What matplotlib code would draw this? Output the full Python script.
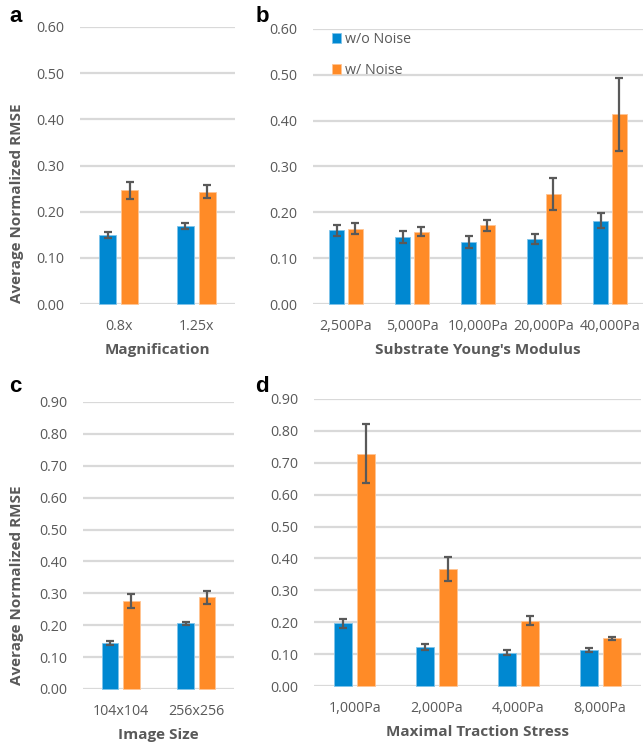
import numpy as np
import matplotlib.pyplot as plt

plt.rcParams['font.family'] = ['Open Sans', 'DejaVu Sans']

# panel a: magnification
mag_labels = ['0.8x', '1.25x']
mag_clean = [0.149, 0.169]
mag_clean_err = [0.006, 0.006]
mag_noise = [0.246, 0.243]
mag_noise_err = [0.018, 0.014]

# panel b: substrate young's modulus
mod_labels = ['2,500Pa', '5,000Pa', '10,000Pa', '20,000Pa', '40,000Pa']
mod_clean = [0.161, 0.147, 0.136, 0.142, 0.182]
mod_clean_err = [0.012, 0.013, 0.013, 0.011, 0.016]
mod_noise = [0.164, 0.158, 0.172, 0.240, 0.414]
mod_noise_err = [0.012, 0.010, 0.012, 0.034, 0.080]

# panel c: image size
size_labels = ['104x104', '256x256']
size_clean = [0.145, 0.206]
size_clean_err = [0.007, 0.005]
size_noise = [0.277, 0.288]
size_noise_err = [0.022, 0.020]

# panel d: maximal traction stress
stress_labels = ['1,000Pa', '2,000Pa', '4,000Pa', '8,000Pa']
stress_clean = [0.196, 0.123, 0.104, 0.113]
stress_clean_err = [0.015, 0.010, 0.008, 0.006]
stress_noise = [0.729, 0.368, 0.205, 0.149]
stress_noise_err = [0.092, 0.038, 0.015, 0.005]

BLUE = '#0088D1'
ORANGE = '#FF8B27'
GRAY = '#595959'
GRID = '#D9D9D9'

W, H = 643, 743
fig = plt.figure(figsize=(W / 100, H / 100), dpi=100)


def px_axes(x0, x1, ytop, ybot):
    return fig.add_axes([x0 / W, 1 - ybot / H, (x1 - x0) / W, (ybot - ytop) / H])


def bars(ax, labels, c, ce, n, ne, ymax, xlabel):
    x = np.arange(len(labels))
    bw = 0.22
    off = 0.142
    ek = dict(ecolor=GRAY, elinewidth=1.6, capsize=3.2, capthick=1.6)
    ax.bar(x - off, c, bw, yerr=ce, color=BLUE, edgecolor='#7FC4EA',
           linewidth=0.6, error_kw=ek, label='w/o Noise', zorder=3)
    ax.bar(x + off, n, bw, yerr=ne, color=ORANGE, edgecolor='#FFC594',
           linewidth=0.6, error_kw=ek, label='w/ Noise', zorder=3)
    ax.set_xlim(-0.5, len(labels) - 0.5)
    ax.set_ylim(0, ymax)
    ticks = np.arange(0, ymax + 0.001, 0.1)
    ax.set_yticks(ticks)
    ax.set_yticklabels(['%.2f' % v for v in ticks])
    ax.set_xticks(x)
    ax.set_xticklabels(labels)
    ax.grid(axis='y', color=GRID, linewidth=1.6, zorder=0)
    ax.set_axisbelow(True)
    for s in ax.spines.values():
        s.set_visible(False)
    ax.tick_params(length=0, colors=GRAY, labelsize=10.3)
    ax.tick_params(axis='x', pad=11)
    ax.tick_params(axis='y', pad=11)
    ax.set_xlabel(xlabel, fontsize=11, fontweight='bold', color=GRAY, labelpad=6)
    for child in ax.get_children():
        child.set_clip_on(False)


ax_a = px_axes(80, 235, 27, 304)
bars(ax_a, mag_labels, mag_clean, mag_clean_err, mag_noise, mag_noise_err,
     0.6, 'Magnification')

ax_b = px_axes(313, 643, 29, 304)
bars(ax_b, mod_labels, mod_clean, mod_clean_err, mod_noise, mod_noise_err,
     0.6, "Substrate Young's Modulus")
ax_b.legend(loc='upper left', bbox_to_anchor=(0.035, 1.015), frameon=False,
            handlelength=0.65, handleheight=0.65, handletextpad=0.3,
            labelspacing=1.1, borderpad=0, fontsize=10.3, labelcolor=GRAY)

ax_c = px_axes(83, 234, 402, 689)
bars(ax_c, size_labels, size_clean, size_clean_err, size_noise, size_noise_err,
     0.9, 'Image Size')

ax_d = px_axes(314, 641, 399, 686)
bars(ax_d, stress_labels, stress_clean, stress_clean_err, stress_noise,
     stress_noise_err, 0.9, 'Maximal Traction Stress')

# y labels
fig.text(17 / W, 1 - 203 / H, 'Average Normalized RMSE', rotation=90,
         ha='center', va='center', fontsize=11, fontweight='bold', color=GRAY)
fig.text(17 / W, 1 - 585 / H, 'Average Normalized RMSE', rotation=90,
         ha='center', va='center', fontsize=11, fontweight='bold', color=GRAY)

# panel letters
for lab, px, py in [('a', 9, 17), ('b', 256, 17), ('c', 9, 387), ('d', 255, 387)]:
    fig.text(px / W, 1 - py / H, lab, ha='left', va='center', fontsize=16,
             fontweight='bold', color='black', family=['Liberation Sans', 'DejaVu Sans'])

fig.savefig('out.png', dpi=100)
